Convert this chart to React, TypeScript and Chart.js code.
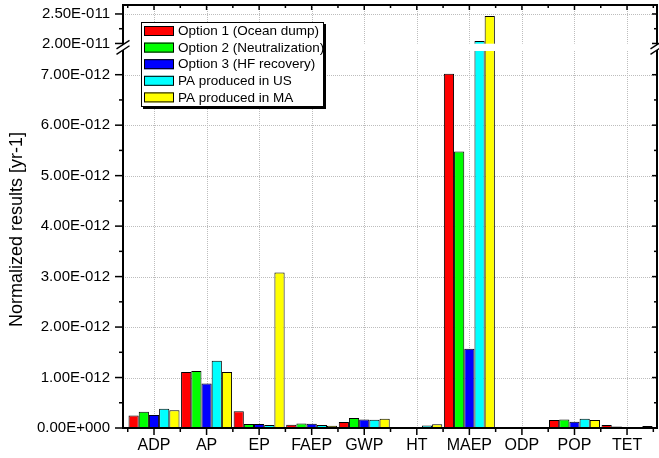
import React, { useEffect, useRef } from 'react';
import { Chart, registerables, LinearScale } from 'chart.js';

// Impact categories along the x axis
const CATEGORIES = ['ADP', 'AP', 'EP', 'FAEP', 'GWP', 'HT', 'MAEP', 'ODP', 'POP', 'TET'];

// Normalized results per scenario [yr-1]
const OPTION1_OCEAN_DUMP = [0.25e-12, 1.11e-12, 0.33e-12, 0.065e-12, 0.12e-12, 0.02e-12, 7.02e-12, 0, 0.16e-12, 0.06e-12];
const OPTION2_NEUTRALIZATION = [0.32e-12, 1.13e-12, 0.08e-12, 0.09e-12, 0.2e-12, 0.02e-12, 5.48e-12, 0, 0.17e-12, 0.03e-12];
const OPTION3_HF_RECOVERY = [0.26e-12, 0.88e-12, 0.08e-12, 0.085e-12, 0.17e-12, 0.01e-12, 1.57e-12, 0, 0.125e-12, 0.02e-12];
const PA_PRODUCED_US = [0.38e-12, 1.33e-12, 0.06e-12, 0.06e-12, 0.165e-12, 0.05e-12, 20.4e-12, 0, 0.185e-12, 0.02e-12];
const PA_PRODUCED_MA = [0.35e-12, 1.11e-12, 3.08e-12, 0.045e-12, 0.185e-12, 0.075e-12, 24.66e-12, 0, 0.16e-12, 0.04e-12];

const SERIES_LABELS = [
  'Option 1 (Ocean dump)',
  'Option 2 (Neutralization)',
  'Option 3 (HF recovery)',
  'PA produced in US',
  'PA produced in MA',
];
const SERIES_COLORS = ['#ff0000', '#00ff00', '#0000ff', '#00ffff', '#ffff00'];

// y axis tick values (lower and upper segment of the broken axis)
const Y_MAJOR_TICKS = [0, 1e-12, 2e-12, 3e-12, 4e-12, 5e-12, 6e-12, 7e-12, 2.0e-11, 2.5e-11];
const Y_MINOR_TICKS = [0.5e-12, 1.5e-12, 2.5e-12, 3.5e-12, 4.5e-12, 5.5e-12, 6.5e-12, 2.25e-11];

// Broken axis: lower segment 0..LOWER_MAX, upper segment UPPER_MIN..UPPER_MAX
const LOWER_MAX = 7.47e-12;
const UPPER_MIN = 1.996e-11;
const UPPER_MAX = 2.652e-11;
const LOWER_SHARE = 0.8913;
const GAP_SHARE = 0.0172;

const FONT = "'Liberation Sans', Arial, Helvetica, sans-serif";

function sci(v: number): string {
  if (v === 0) return '0.00E+000';
  let e = Math.floor(Math.log10(Math.abs(v)));
  let ms = (v / Math.pow(10, e)).toFixed(2);
  if (Math.abs(parseFloat(ms)) >= 10) {
    e += 1;
    ms = (v / Math.pow(10, e)).toFixed(2);
  }
  const sign = e < 0 ? '-' : '+';
  return `${ms}E${sign}${String(Math.abs(e)).padStart(3, '0')}`;
}

class BrokenLinearScale extends LinearScale {
  static id = 'brokenLinear';
  static defaults = LinearScale.defaults;

  buildTicks() {
    (this as any).start = (this as any).min;
    (this as any).end = (this as any).max;
    return Y_MAJOR_TICKS.map((value) => ({ value }));
  }

  segments() {
    const h = this.bottom - this.top;
    const lowerTop = this.bottom - LOWER_SHARE * h;
    const upperBottom = lowerTop - GAP_SHARE * h;
    return { lowerTop, upperBottom };
  }

  getPixelForValue(value: number) {
    const { lowerTop, upperBottom } = this.segments();
    if (value <= LOWER_MAX) {
      return this.bottom - (value / LOWER_MAX) * (this.bottom - lowerTop);
    }
    if (value >= UPPER_MIN) {
      return upperBottom - ((value - UPPER_MIN) / (UPPER_MAX - UPPER_MIN)) * (upperBottom - this.top);
    }
    return lowerTop - ((value - LOWER_MAX) / (UPPER_MIN - LOWER_MAX)) * (lowerTop - upperBottom);
  }

  getValueForPixel(pixel: number) {
    const { lowerTop, upperBottom } = this.segments();
    if (pixel >= lowerTop) {
      return ((this.bottom - pixel) / (this.bottom - lowerTop)) * LOWER_MAX;
    }
    if (pixel <= upperBottom) {
      return UPPER_MIN + ((upperBottom - pixel) / (upperBottom - this.top)) * (UPPER_MAX - UPPER_MIN);
    }
    return LOWER_MAX + ((lowerTop - pixel) / (lowerTop - upperBottom)) * (UPPER_MIN - LOWER_MAX);
  }
}

Chart.register(...registerables, BrokenLinearScale);

// Frame, ticks, dotted grid, axis break, legend and y title
const decorations = {
  id: 'originFrame',
  beforeDatasetsDraw(chart: any) {
    const { ctx, chartArea: a, scales } = chart;
    const x = scales.x;
    const y = scales.y;
    ctx.save();
    ctx.strokeStyle = '#bdbdbd';
    ctx.lineWidth = 1;
    ctx.setLineDash([1, 1]);
    Y_MAJOR_TICKS.forEach((v) => {
      if (v === 0 || v === 2.0e-11) return;
      const py = Math.round(y.getPixelForValue(v)) + 0.5;
      ctx.beginPath();
      ctx.moveTo(a.left, py);
      ctx.lineTo(a.right, py);
      ctx.stroke();
    });
    CATEGORIES.forEach((_, i) => {
      const px = Math.round(x.getPixelForValue(i)) + 0.5;
      ctx.beginPath();
      ctx.moveTo(px, a.top);
      ctx.lineTo(px, a.bottom);
      ctx.stroke();
    });
    ctx.restore();
  },
  afterDatasetsDraw(chart: any) {
    const { ctx, chartArea: a, scales } = chart;
    const x = scales.x;
    const y = scales.y;
    ctx.save();

    // gap of the broken axis
    const gapTop = y.getPixelForValue(UPPER_MIN);
    const gapBottom = y.getPixelForValue(LOWER_MAX);
    ctx.fillStyle = '#ffffff';
    ctx.fillRect(a.left + 1, gapTop, a.right - a.left - 2, gapBottom - gapTop);

    // frame
    ctx.strokeStyle = '#000';
    ctx.lineWidth = 2;
    ctx.strokeRect(a.left, a.top, a.right - a.left, a.bottom - a.top);

    // ticks
    ctx.lineWidth = 1.5;
    const line = (x1: number, y1: number, x2: number, y2: number) => {
      ctx.beginPath();
      ctx.moveTo(x1, y1);
      ctx.lineTo(x2, y2);
      ctx.stroke();
    };
    Y_MAJOR_TICKS.forEach((v) => {
      const py = y.getPixelForValue(v);
      line(a.left - 8, py, a.left, py);
      line(a.right, py, a.right - 5, py);
    });
    Y_MINOR_TICKS.forEach((v) => {
      const py = y.getPixelForValue(v);
      line(a.left - 4, py, a.left, py);
      line(a.right, py, a.right - 3, py);
    });
    CATEGORIES.forEach((_, i) => {
      const px = x.getPixelForValue(i);
      line(px, a.bottom, px, a.bottom + 7);
      line(px, a.top, px, a.top + 5);
    });
    for (let i = -1; i < CATEGORIES.length; i++) {
      const px = x.getPixelForValue(i + 0.5);
      if (px <= a.left + 1 || px >= a.right - 1) continue;
      line(px, a.bottom, px, a.bottom + 4);
      line(px, a.top, px, a.top + 3);
    }

    // axis break marks
    const cy = (gapTop + gapBottom) / 2;
    [a.left, a.right].forEach((cx) => {
      const dx = 6.5;
      const dy = 4.3;
      const off = 2.7;
      ctx.fillStyle = '#ffffff';
      ctx.beginPath();
      ctx.moveTo(cx - dx, cy - off + dy);
      ctx.lineTo(cx + dx, cy - off - dy);
      ctx.lineTo(cx + dx, cy + off - dy);
      ctx.lineTo(cx - dx, cy + off + dy);
      ctx.closePath();
      ctx.fill();
      ctx.lineWidth = 1.4;
      line(cx - dx, cy - off + dy, cx + dx, cy - off - dy);
      line(cx - dx, cy + off + dy, cx + dx, cy + off - dy);
    });

    // legend
    const lx = a.left + 18;
    const ly = a.top + 17;
    const lw = 183;
    const lh = 85;
    ctx.fillStyle = '#000';
    ctx.fillRect(lx + 2, ly + 2, lw, lh);
    ctx.fillStyle = '#fff';
    ctx.fillRect(lx, ly, lw, lh);
    ctx.lineWidth = 1;
    ctx.strokeStyle = '#000';
    ctx.strokeRect(lx + 0.5, ly + 0.5, lw - 1, lh - 1);
    ctx.font = `13.5px ${FONT}`;
    ctx.textBaseline = 'middle';
    ctx.textAlign = 'left';
    chart.data.datasets.forEach((ds: any, i: number) => {
      const rowY = ly + 9 + i * 16.6;
      ctx.fillStyle = ds.backgroundColor;
      ctx.fillRect(lx + 3, rowY - 5, 30, 10);
      ctx.strokeStyle = '#000';
      ctx.strokeRect(lx + 3.5, rowY - 4.5, 29, 9);
      ctx.fillStyle = '#000';
      ctx.fillText(ds.label, lx + 37, rowY + 0.5);
    });

    // y axis title
    ctx.save();
    ctx.translate(17, 229.5);
    ctx.rotate(-Math.PI / 2);
    ctx.font = `18px ${FONT}`;
    ctx.textAlign = 'center';
    ctx.textBaseline = 'middle';
    ctx.fillStyle = '#000';
    ctx.fillText('Normalized results [yr-1]', 0, 0);
    ctx.restore();

    ctx.restore();
  },
};

export default function App() {
  const canvasRef = useRef<HTMLCanvasElement | null>(null);

  useEffect(() => {
    const canvas = canvasRef.current;
    if (!canvas) return;
    const seriesValues = [
      OPTION1_OCEAN_DUMP,
      OPTION2_NEUTRALIZATION,
      OPTION3_HF_RECOVERY,
      PA_PRODUCED_US,
      PA_PRODUCED_MA,
    ];
    const chart = new Chart(canvas, {
      type: 'bar',
      data: {
        datasets: seriesValues.map((values, s) => ({
          label: SERIES_LABELS[s],
          data: values.map((v, i) => ({ x: i, y: v })),
          backgroundColor: SERIES_COLORS[s],
          borderColor: '#000000',
          borderWidth: 1,
          categoryPercentage: 0.97,
          barPercentage: 1.0,
        })),
      },
      options: {
        responsive: false,
        animation: false,
        events: [],
        layout: { padding: { top: 5, right: 2, left: 0, bottom: 0 } },
        plugins: {
          legend: { display: false },
          tooltip: { enabled: false },
          title: { display: false },
        },
        scales: {
          x: {
            type: 'linear',
            min: -0.59,
            max: 9.57,
            offset: false,
            grid: { display: false, drawTicks: false },
            border: { display: false },
            afterBuildTicks: (scale: any) => {
              scale.ticks = CATEGORIES.map((_, i) => ({ value: i }));
            },
            afterFit: (scale: any) => {
              scale.height = 30;
              scale.paddingLeft = 0;
              scale.paddingRight = 0;
              scale.paddingTop = 0;
              scale.paddingBottom = 0;
            },
            ticks: {
              autoSkip: false,
              maxRotation: 0,
              minRotation: 0,
              padding: 8,
              color: '#000',
              font: { family: FONT, size: 16 },
              callback: (v: any) => CATEGORIES[Math.round(Number(v))] ?? '',
            },
          },
          y: {
            type: 'brokenLinear' as any,
            min: 0,
            max: UPPER_MAX,
            grid: { display: false, drawTicks: false },
            border: { display: false },
            afterFit: (scale: any) => {
              scale.width = 123;
              scale.paddingTop = 0;
              scale.paddingBottom = 0;
              scale.paddingLeft = 0;
              scale.paddingRight = 0;
            },
            ticks: {
              autoSkip: false,
              padding: 13,
              color: '#000',
              font: { family: FONT, size: 15 },
              callback: (v: any) => sci(Number(v)),
            },
          },
        },
      } as any,
      plugins: [decorations],
    });
    return () => chart.destroy();
  }, []);

  return (
    <div style={{ position: 'absolute', left: 0, top: 0, width: 659, height: 458, background: '#fff' }}>
      <canvas ref={canvasRef} width={659} height={458} style={{ display: 'block' }} />
    </div>
  );
}
